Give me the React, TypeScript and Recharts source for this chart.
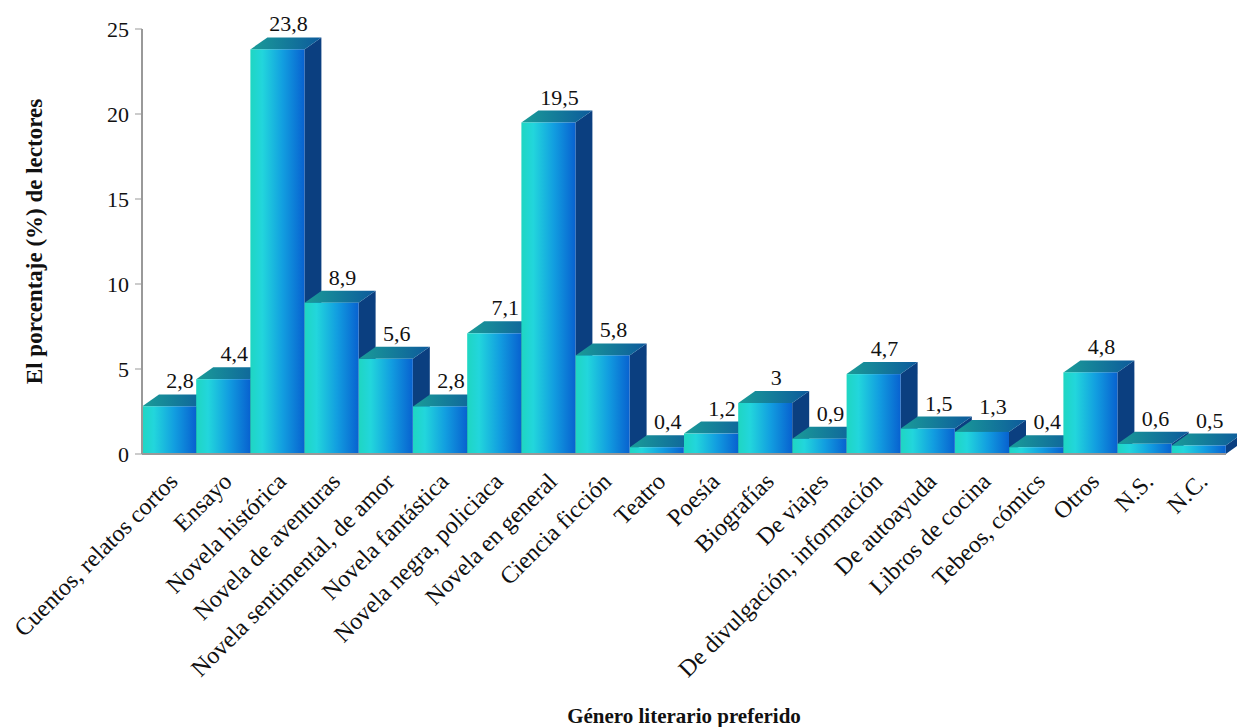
import React from "react";
import { BarChart, Bar, XAxis, YAxis, LabelList } from "recharts";

const categories = [
    "Cuentos, relatos cortos",
    "Ensayo",
    "Novela histórica",
    "Novela de aventuras",
    "Novela sentimental, de amor",
    "Novela fantástica",
    "Novela negra, policiaca",
    "Novela en general",
    "Ciencia ficción",
    "Teatro",
    "Poesía",
    "Biografías",
    "De viajes",
    "De divulgación, información",
    "De autoayuda",
    "Libros de cocina",
    "Tebeos, cómics",
    "Otros",
    "N.S.",
    "N.C.",
];
const percentages = [2.8, 4.4, 23.8, 8.9, 5.6, 2.8, 7.1, 19.5, 5.8, 0.4, 1.2, 3, 0.9, 4.7, 1.5, 1.3, 0.4, 4.8, 0.6, 0.5];
const yTicks = [0, 5, 10, 15, 20, 25];

const data = categories.map((name, i) => ({ name, value: percentages[i] }));

const FONT = "'Liberation Serif', 'Times New Roman', serif";
const DX = 17;
const DY = 12;

const Bar3D = (props: any) => {
    const { x, y, width, height } = props;
    if (width == null || height == null) return null;
    const r = x + width;
    const b = y + height;
    return (
        <g>
            <path
                d={`M${r},${y} L${r + DX},${y - DY} L${r + DX},${b - DY} L${r},${b} Z`}
                fill="#0b3f80"
            />
            <path
                d={`M${x},${y} L${x + DX},${y - DY} L${r + DX},${y - DY} L${r},${y} Z`}
                fill="url(#topGrad)"
            />
            <rect x={x} y={y} width={width} height={height} fill="url(#frontGrad)" />
        </g>
    );
};

const CatTick = (props: any) => {
    const { x, y, payload } = props;
    const ax = x + 10;
    const ay = y + 21;
    return (
        <text
            x={ax}
            y={ay}
            textAnchor="end"
            transform={`rotate(-45, ${ax}, ${ay})`}
            fontFamily={FONT}
            fontSize={24}
            fill="#111"
        >
            {payload.value}
        </text>
    );
};

const ValueLabel = (props: any) => {
    const { x, y, width, value } = props;
    return (
        <text
            x={x + width / 2 + 11}
            y={y - 18}
            textAnchor="middle"
            fontFamily={FONT}
            fontSize={22}
            fill="#111"
        >
            {String(value).replace(".", ",")}
        </text>
    );
};

export default function App() {
    return (
        <div style={{ position: "absolute", left: 0, top: 0, background: "#fff" }}>
            <BarChart
                width={1237}
                height={727}
                data={data}
                margin={{ top: 29, right: 11, left: 0, bottom: 0 }}
                barCategoryGap={0}
            >
                <defs>
                    <linearGradient id="frontGrad" x1="0" y1="0" x2="1" y2="0">
                        <stop offset="0%" stopColor="#1fd6c2" />
                        <stop offset="22%" stopColor="#22d6dc" />
                        <stop offset="60%" stopColor="#129ee0" />
                        <stop offset="100%" stopColor="#0862d0" />
                    </linearGradient>
                    <linearGradient id="topGrad" x1="0" y1="0" x2="1" y2="0">
                        <stop offset="0%" stopColor="#1a9c98" />
                        <stop offset="100%" stopColor="#0d5a9c" />
                    </linearGradient>
                </defs>
                <XAxis
                    dataKey="name"
                    interval={0}
                    height={273}
                    tickLine={false}
                    axisLine={{ stroke: "#999", strokeWidth: 2 }}
                    tick={<CatTick />}
                    label={{
                        value: "Género literario preferido",
                        position: "insideBottom",
                        offset: 4,
                        style: { fontFamily: FONT, fontSize: 21, fontWeight: "bold", fill: "#111" },
                    }}
                />
                <YAxis
                    width={142}
                    domain={[0, 25]}
                    ticks={yTicks}
                    axisLine={{ stroke: "#999", strokeWidth: 2 }}
                    tickLine={{ stroke: "#999" }}
                    tickSize={7}
                    tickMargin={6}
                    tick={{ fontFamily: FONT, fontSize: 22, fill: "#111" }}
                    label={{
                        value: "El porcentaje (%) de lectores",
                        angle: -90,
                        position: "insideLeft",
                        offset: 34,
                        style: { textAnchor: "middle", fontFamily: FONT, fontSize: 23, fontWeight: "bold", fill: "#111" },
                    }}
                />
                <Bar dataKey="value" shape={<Bar3D />} isAnimationActive={false}>
                    <LabelList dataKey="value" content={<ValueLabel />} />
                </Bar>
            </BarChart>
        </div>
    );
}
